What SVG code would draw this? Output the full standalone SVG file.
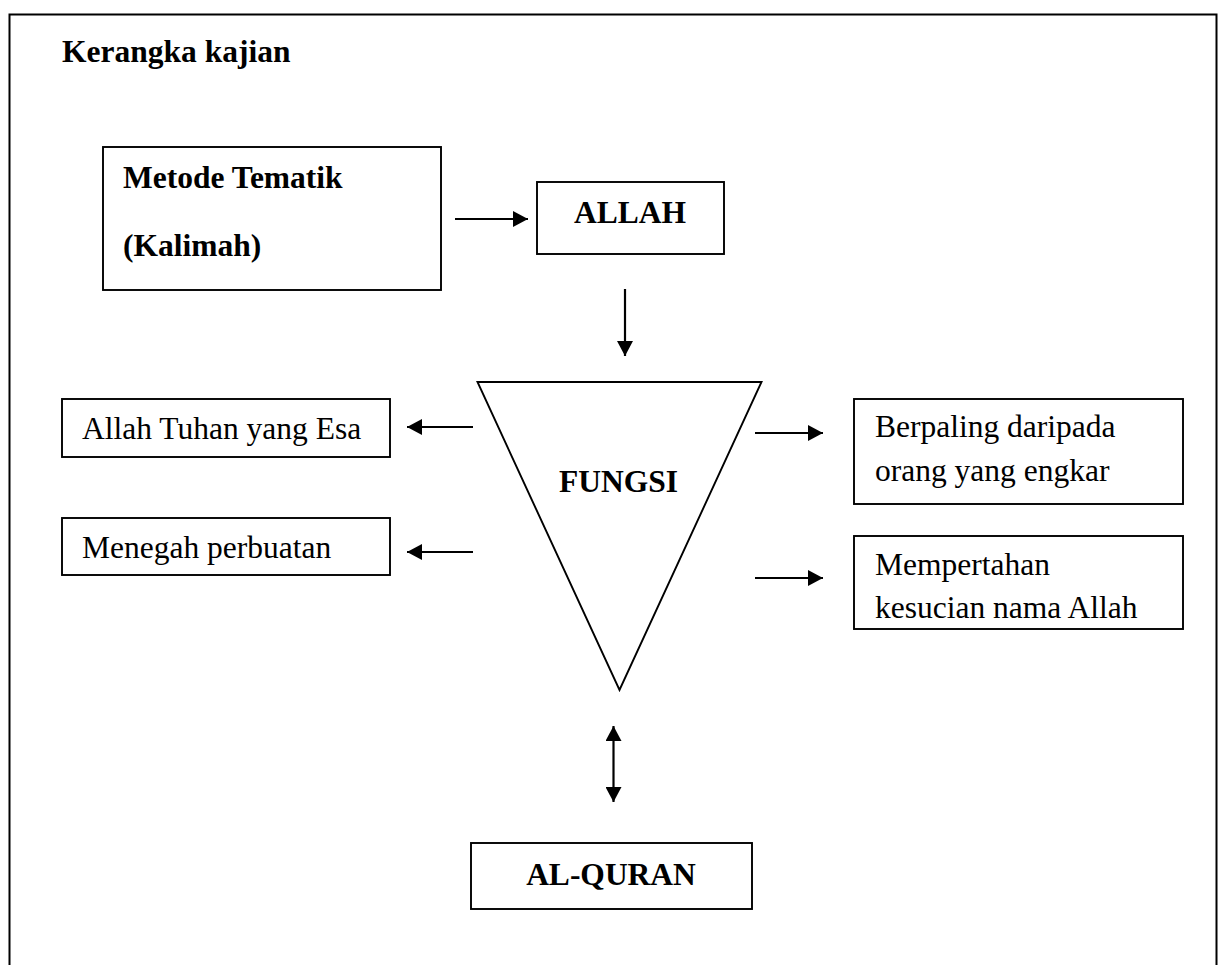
<svg xmlns="http://www.w3.org/2000/svg" width="1218" height="965" viewBox="0 0 1218 965">
<defs>
<style>
.box{fill:#fff;stroke:#000;stroke-width:1.9}
.t{font-family:"Liberation Serif","Times New Roman",serif;font-size:31.5px;fill:#000}
.b{font-weight:bold}
.c{text-anchor:middle}
.ln{stroke:#000;stroke-width:2.2;fill:none}
</style>
<marker id="ah" viewBox="0 0 15 16" refX="15" refY="8" markerWidth="15" markerHeight="16" markerUnits="userSpaceOnUse" orient="auto-start-reverse">
<path d="M0,0 L15,8 L0,16 Z" fill="#000"/>
</marker>
</defs>
<rect width="1218" height="965" fill="#fff"/>
<path d="M9.5,965 V14.5 H1216.5 V965" fill="none" stroke="#000" stroke-width="2"/>
<text class="t b" x="62" y="62">Kerangka kajian</text>

<g id="metode">
<rect class="box" x="103" y="147" width="338" height="143"/>
<text class="t b" x="123" y="188">Metode Tematik</text>
<text class="t b" x="123" y="256">(Kalimah)</text>
</g>
<g id="allah">
<rect class="box" x="537" y="182" width="187" height="72"/>
<text class="t b c" x="630" y="223">ALLAH</text>
</g>
<g id="fungsi">
<polygon class="box" points="477.5,382 761.5,382 619.5,690"/>
<text class="t b c" x="618.5" y="492">FUNGSI</text>
</g>
<g id="esa">
<rect class="box" x="62" y="399" width="328" height="58"/>
<text class="t" x="82" y="439">Allah Tuhan yang Esa</text>
</g>
<g id="menegah">
<rect class="box" x="62" y="518" width="328" height="57"/>
<text class="t" x="82" y="558">Menegah perbuatan</text>
</g>
<g id="berpaling">
<rect class="box" x="854" y="399" width="329" height="105"/>
<text class="t" x="875" y="437">Berpaling daripada</text>
<text class="t" x="875" y="481">orang yang engkar</text>
</g>
<g id="mempertahan">
<rect class="box" x="854" y="536" width="329" height="93"/>
<text class="t" x="875" y="575">Mempertahan</text>
<text class="t" x="875" y="618">kesucian nama Allah</text>
</g>
<g id="alquran">
<rect class="box" x="471" y="843" width="281" height="66"/>
<text class="t b c" x="611" y="885">AL-QURAN</text>
</g>

<g id="connectors">
<line class="ln" x1="455" y1="219" x2="528" y2="219" marker-end="url(#ah)"/>
<line class="ln" x1="625" y1="289" x2="625" y2="356" marker-end="url(#ah)"/>
<line class="ln" x1="473" y1="427" x2="407" y2="427" marker-end="url(#ah)"/>
<line class="ln" x1="473" y1="552" x2="407" y2="552" marker-end="url(#ah)"/>
<line class="ln" x1="755" y1="433" x2="823" y2="433" marker-end="url(#ah)"/>
<line class="ln" x1="755" y1="578" x2="823" y2="578" marker-end="url(#ah)"/>
<line class="ln" x1="613.5" y1="726" x2="613.5" y2="802" marker-start="url(#ah)" marker-end="url(#ah)"/>
</g>
</svg>
